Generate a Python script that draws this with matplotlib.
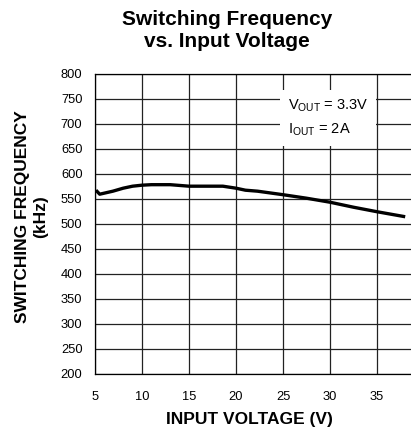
import matplotlib.pyplot as plt

plt.rcParams['font.family'] = ['Liberation Sans', 'DejaVu Sans']
plt.rcParams['mathtext.default'] = 'regular'

# switching frequency curve (kHz) against input voltage (V)
vin = [5.1, 5.5, 6.2, 6.9, 8.0, 9.0, 10.0, 11.0, 13.0, 15.0, 17.0, 18.6,
       20.0, 21.0, 22.3, 25.0, 27.5, 30.0, 32.5, 35.0, 38.0]
freq = [567, 559, 562, 565, 571, 575, 577, 578, 578, 575, 575, 575,
        571, 567, 565, 558, 551, 543, 533, 524, 514]

xticks = [5, 10, 15, 20, 25, 30, 35]
yticks = list(range(200, 801, 50))

fig = plt.figure(figsize=(4.11, 4.33), dpi=100)
ax = fig.add_axes([95 / 411, 59 / 433, 316 / 411, 300.5 / 433])

ax.plot(vin, freq, color='black', lw=2.4, solid_capstyle='butt', zorder=3)

ax.set_xlim(5, 5 + 316 / 9.4)
ax.set_ylim(200, 800)
ax.set_xticks(xticks)
ax.set_yticks(yticks)
ax.grid(True, color='#222222', lw=0.9)
ax.tick_params(length=0, labelsize=9.3)
ax.tick_params(axis='x', pad=12)
ax.tick_params(axis='y', pad=9)
ax.spines['right'].set_visible(False)
for s in ['left', 'bottom', 'top']:
    ax.spines[s].set_linewidth(0.9)

ax.text(25.5, 711, 'V$_{OUT}$ = 3.3V\nI$_{OUT}$ = 2A',
        fontsize=10.5, va='center', ha='left', linespacing=1.6, zorder=4,
        bbox=dict(facecolor='white', edgecolor='none', pad=5.5))

ax.set_xlabel('INPUT VOLTAGE (V)', fontsize=12.5, fontweight='bold')
ax.xaxis.set_label_coords(0.49, -0.153)
ax.xaxis.label.set_va('center')
ax.set_ylabel('SWITCHING FREQUENCY\n(kHz)', fontsize=12.5, fontweight='bold',
              linespacing=1.3)
ax.yaxis.set_label_coords(-0.2, 0.525)
ax.yaxis.label.set_va('center')

fig.text(227 / 411, 1 - 30.5 / 433, 'Switching Frequency\nvs. Input Voltage',
         ha='center', va='center', fontsize=15, fontweight='bold', linespacing=1.2)

fig.savefig('out.png', dpi=100)
